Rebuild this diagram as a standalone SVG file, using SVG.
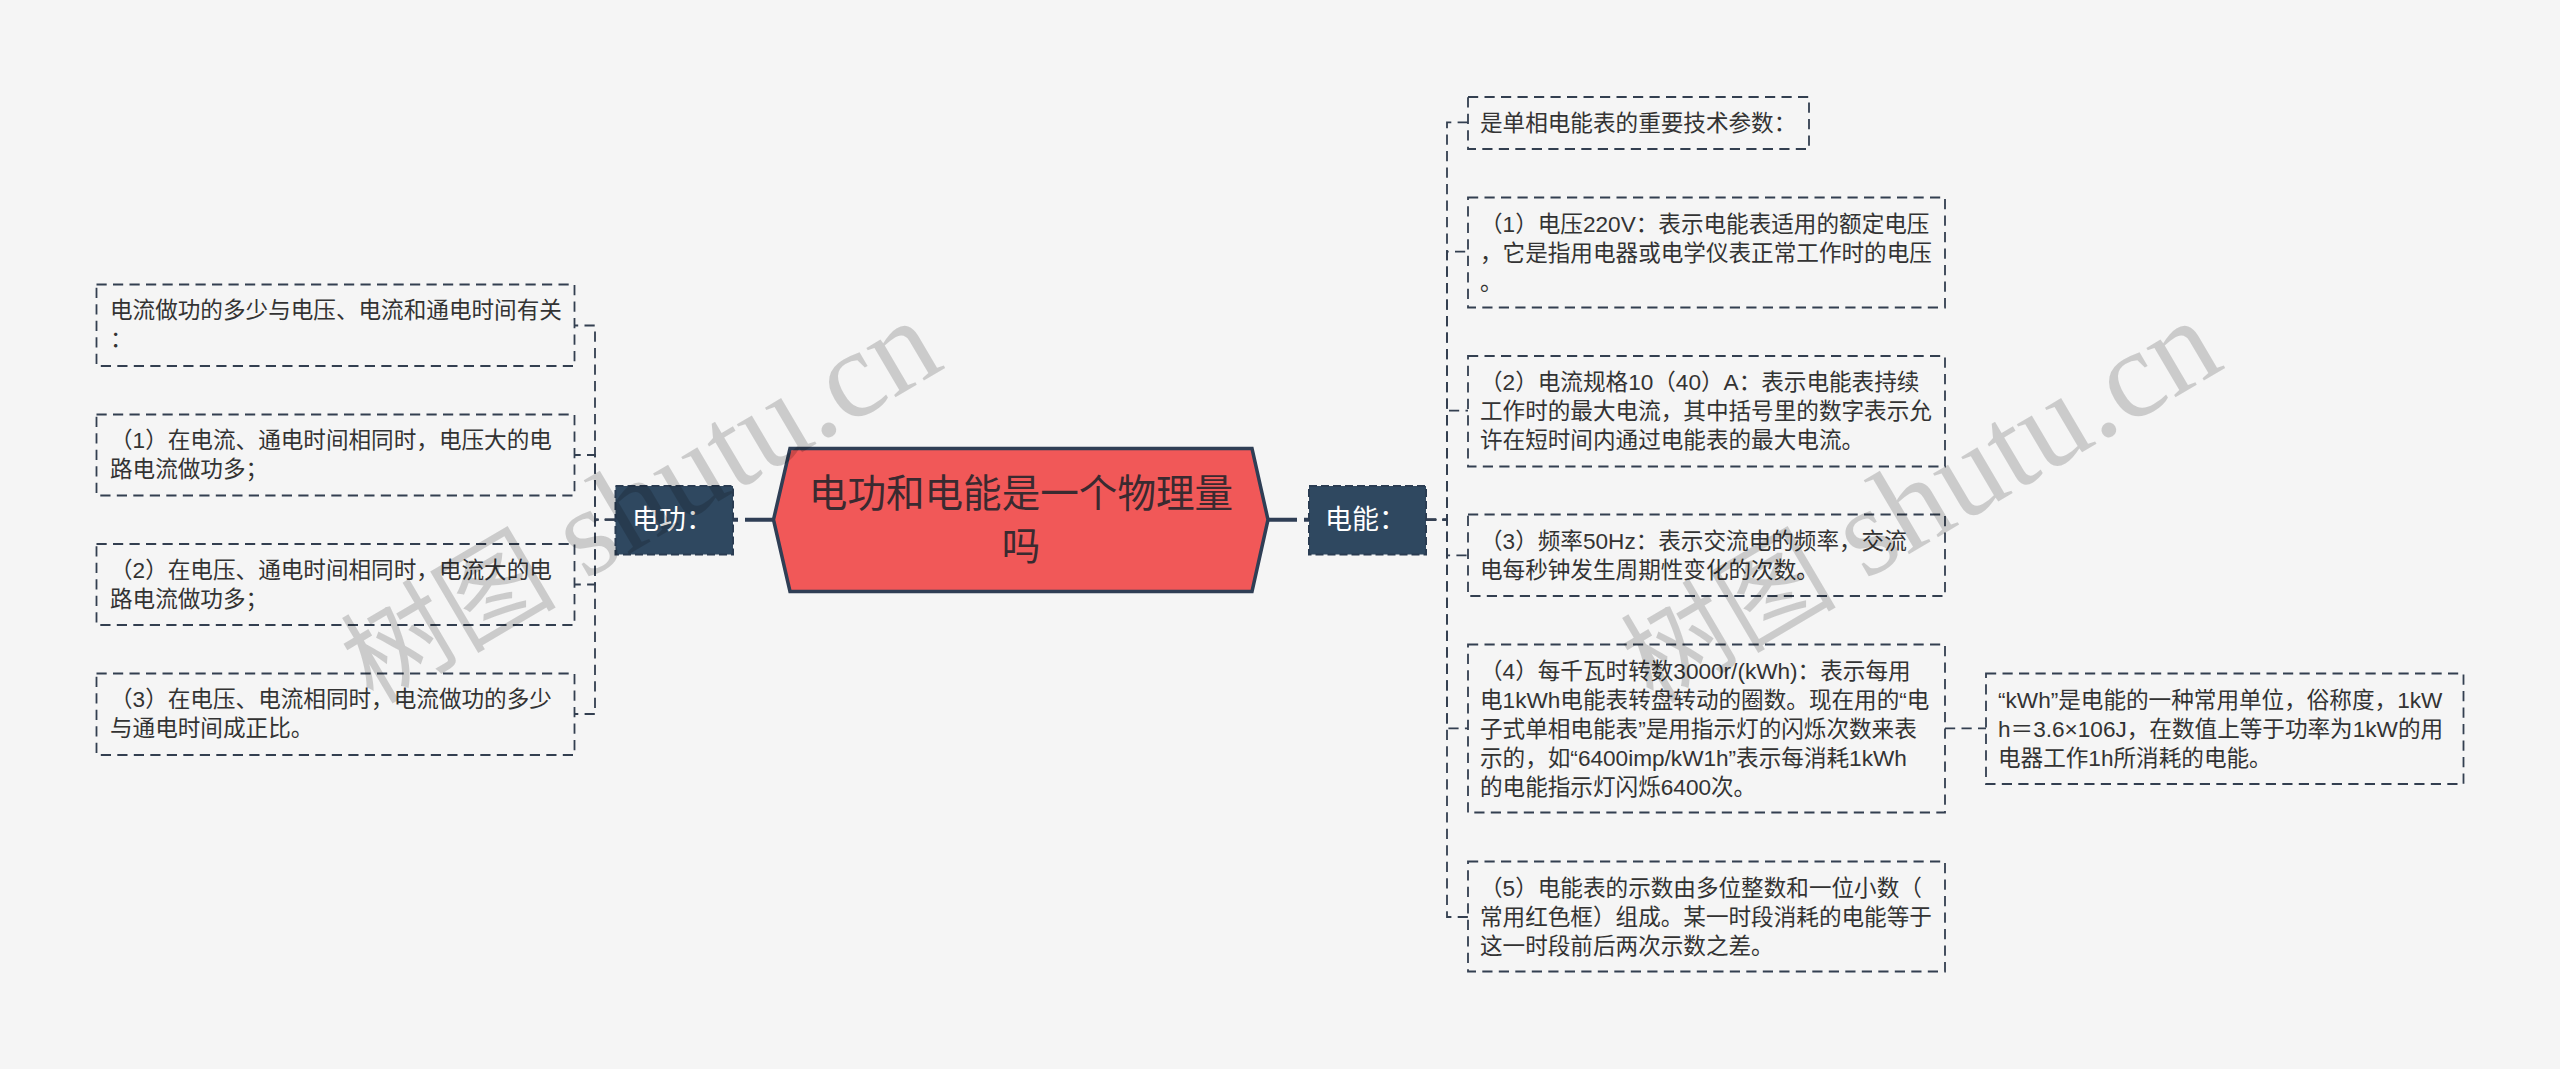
<svg xmlns="http://www.w3.org/2000/svg" width="2560" height="1069" viewBox="0 0 2560 1069">
<style>
text{font-family:"Liberation Sans","Noto Sans CJK SC",sans-serif}
.t{font-size:22.6px;fill:#333}
.c,.b{fill:none;stroke:#333f50;stroke-width:1.8;stroke-dasharray:10.2 6.3}
.k{fill:none;stroke:#2f3e55;stroke-width:4;stroke-dasharray:29 7 6}
.m{fill:#2f4860;stroke:#2a3c52;stroke-width:2;stroke-dasharray:8 4}
.w{font-family:"Liberation Serif","Noto Sans CJK SC",serif;fill:#000;fill-opacity:.17}
.mt{font-size:27px;fill:#fff}
.h{font-size:38.6px;fill:#3a2a30;text-anchor:middle}
</style>
<rect width="2560" height="1069" fill="#f5f5f5"/>
<g id="connectors">
<path class="c" d="M615 519.7H595V325.5H574"/><path class="c" d="M615 519.7H595V455H574"/><path class="c" d="M615 519.7H595V584.5H574"/><path class="c" d="M615 519.7H595V714H574"/>
<path class="c" d="M1426 519.7H1447V122.3H1468"/><path class="c" d="M1426 519.7H1447V251.7H1468"/><path class="c" d="M1426 519.7H1447V410.7H1468"/><path class="c" d="M1426 519.7H1447V555.3H1468"/><path class="c" d="M1426 519.7H1447V728.3H1468"/><path class="c" d="M1426 519.7H1447V917H1468"/>
<path class="c" d="M1945 728.3H1986"/>
<path class="k" d="M774 519.7H733"/><path class="k" d="M1268 519.7H1309"/>
</g>
<g id="root">
<path d="M790 448.5H1252L1268 519.7L1252 591.5H790L773.5 519.7Z" fill="#f15858" stroke="#2f3e55" stroke-width="3.5"/>
<text class="h" x="1021" y="506.5">电功和电能是一个物理量</text>
<text class="h" x="1021" y="559.5">吗</text>
</g>
<g id="n-diangong"><rect class="m" x="615.5" y="486" width="117.5" height="68.5"/><text class="mt" x="632" y="529">电功&#xFF1A;</text></g>
<g id="n-dianneng"><rect class="m" x="1309" y="486" width="117" height="68.5"/><text class="mt" x="1325" y="529">电能&#xFF1A;</text></g>
<g id="l1"><rect class="b" x="96.5" y="284.5" width="478" height="81.5"/><text class="t"><tspan x="110" y="318">电流做功的多少与电压、电流和通电时间有关</tspan><tspan x="110" y="347">&#xFF1A;</tspan></text></g>
<g id="l2"><rect class="b" x="96.5" y="414.5" width="478" height="81"/><text class="t"><tspan x="110" y="448">&#xFF08;1&#xFF09;在电流、通电时间相同时&#xFF0C;电压大的电</tspan><tspan x="110" y="477">路电流做功多&#xFF1B;</tspan></text></g>
<g id="l3"><rect class="b" x="96.5" y="544" width="478" height="81"/><text class="t"><tspan x="110" y="578">&#xFF08;2&#xFF09;在电压、通电时间相同时&#xFF0C;电流大的电</tspan><tspan x="110" y="607">路电流做功多&#xFF1B;</tspan></text></g>
<g id="l4"><rect class="b" x="96.5" y="673.5" width="478" height="81.5"/><text class="t"><tspan x="110" y="707">&#xFF08;3&#xFF09;在电压、电流相同时&#xFF0C;电流做功的多少</tspan><tspan x="110" y="736">与通电时间成正比。</tspan></text></g>
<g id="r0"><rect class="b" x="1468" y="97" width="341" height="52"/><text class="t"><tspan x="1480" y="131">是单相电能表的重要技术参数&#xFF1A;</tspan></text></g>
<g id="r1"><rect class="b" x="1468" y="197.5" width="477" height="110"/><text class="t"><tspan x="1480" y="232">&#xFF08;1&#xFF09;电压220V&#xFF1A;表示电能表适用的额定电压</tspan><tspan x="1480" y="261">&#xFF0C;它是指用电器或电学仪表正常工作时的电压</tspan><tspan x="1480" y="290">。</tspan></text></g>
<g id="r2"><rect class="b" x="1468" y="356" width="477" height="110.5"/><text class="t"><tspan x="1480" y="390">&#xFF08;2&#xFF09;电流规格10&#xFF08;40&#xFF09;A&#xFF1A;表示电能表持续</tspan><tspan x="1480" y="419">工作时的最大电流&#xFF0C;其中括号里的数字表示允</tspan><tspan x="1480" y="448">许在短时间内通过电能表的最大电流。</tspan></text></g>
<g id="r3"><rect class="b" x="1468" y="514.5" width="477" height="81.5"/><text class="t"><tspan x="1480" y="549">&#xFF08;3&#xFF09;频率50Hz&#xFF1A;表示交流电的频率&#xFF0C;交流</tspan><tspan x="1480" y="578">电每秒钟发生周期性变化的次数。</tspan></text></g>
<g id="r4"><rect class="b" x="1468" y="644.5" width="477" height="168"/><text class="t"><tspan x="1480" y="679">&#xFF08;4&#xFF09;每千瓦时转数3000r/(kWh)&#xFF1A;表示每用</tspan><tspan x="1480" y="708">电1kWh电能表转盘转动的圈数。现在用的&#x201C;电</tspan><tspan x="1480" y="737">子式单相电能表&#x201D;是用指示灯的闪烁次数来表</tspan><tspan x="1480" y="766">示的&#xFF0C;如&#x201C;6400imp/kW1h&#x201D;表示每消耗1kWh</tspan><tspan x="1480" y="795">的电能指示灯闪烁6400次。</tspan></text></g>
<g id="r5"><rect class="b" x="1468" y="861.5" width="477" height="110"/><text class="t"><tspan x="1480" y="896">&#xFF08;5&#xFF09;电能表的示数由多位整数和一位小数&#xFF08;</tspan><tspan x="1480" y="925">常用红色框&#xFF09;组成。某一时段消耗的电能等于</tspan><tspan x="1480" y="954">这一时段前后两次示数之差。</tspan></text></g>
<g id="r4c"><rect class="b" x="1986" y="673.5" width="477.5" height="110.5"/><text class="t"><tspan x="1998" y="708">&#x201C;kWh&#x201D;是电能的一种常用单位&#xFF0C;俗称度&#xFF0C;1kW</tspan><tspan x="1998" y="737">h&#xFF1D;3.6×106J&#xFF0C;在数值上等于功率为1kW的用</tspan><tspan x="1998" y="766">电器工作1h所消耗的电能。</tspan></text></g>
<g id="watermarks">
<g transform="translate(373 705) rotate(-30.5)"><text class="w" font-size="108">树图</text><text class="w" x="246" font-size="125"> shutu.cn</text></g>
<g transform="translate(1653 705) rotate(-30.5)"><text class="w" font-size="108">树图</text><text class="w" x="246" font-size="125"> shutu.cn</text></g>
</g>
</svg>
